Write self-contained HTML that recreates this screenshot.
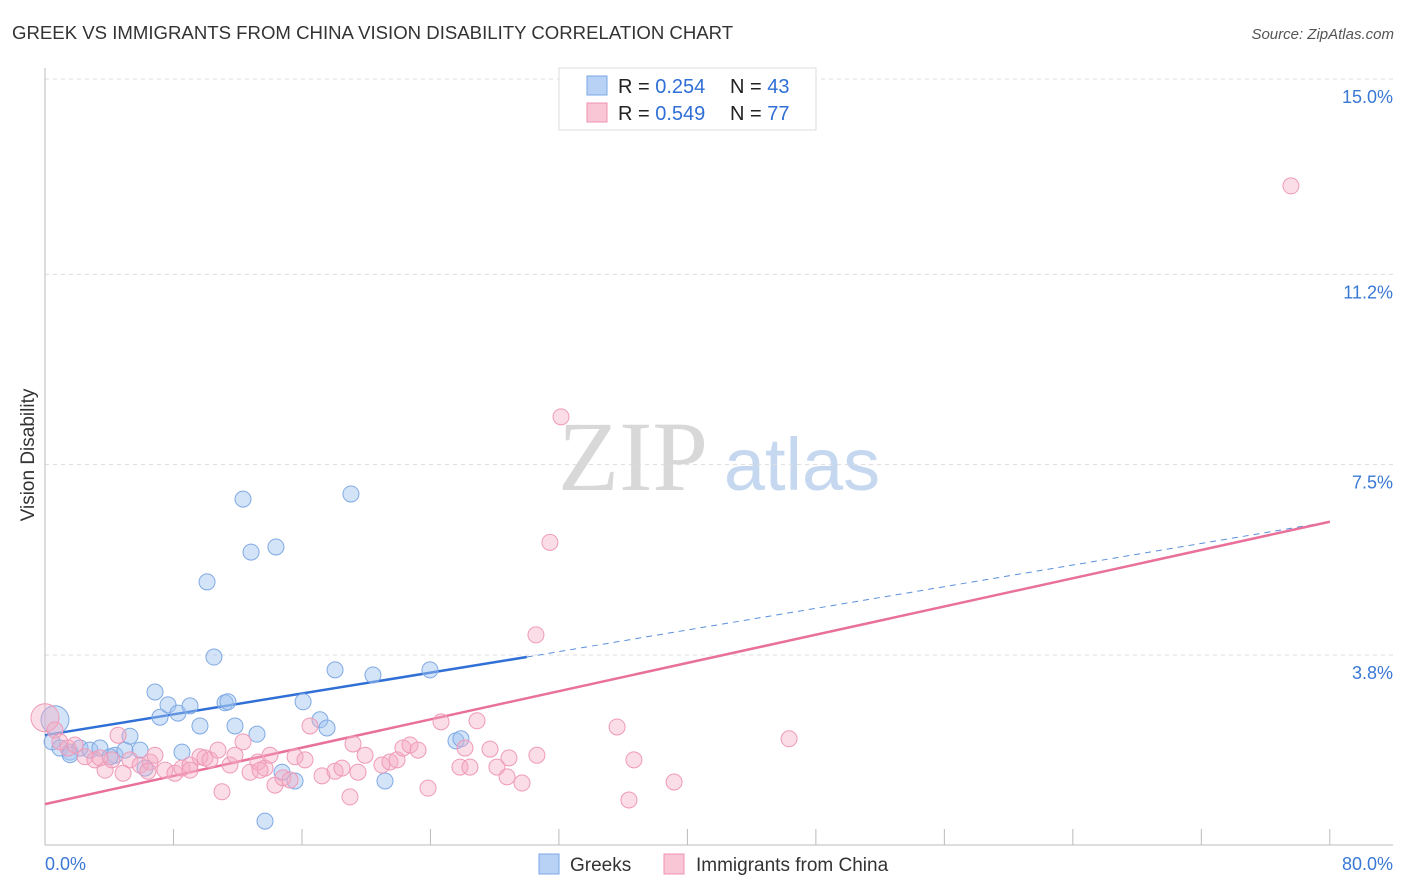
<!DOCTYPE html>
<html><head><meta charset="utf-8"><style>
body{margin:0;background:#fff;font-family:"Liberation Sans",sans-serif;}
#wrap{position:relative;width:1406px;height:892px;overflow:hidden;}
</style></head><body>
<div id="wrap">
<svg id="chart" width="1406" height="892" xmlns="http://www.w3.org/2000/svg">
<text x="12" y="39" font-size="18.6" fill="#333">GREEK VS IMMIGRANTS FROM CHINA VISION DISABILITY CORRELATION CHART</text>
<text x="1394" y="39" font-size="15" fill="#555" text-anchor="end" font-style="italic">Source: ZipAtlas.com</text>
<text x="34" y="455" font-size="19" fill="#333" transform="rotate(-90 34 455)" text-anchor="middle">Vision Disability</text>
<g>
<text x="633" y="490" font-size="100" fill="#d8d8d8" font-family="Liberation Serif,serif" text-anchor="middle">ZIP</text>
<text x="802" y="490" font-size="74" fill="#c5d8f0" text-anchor="middle">atlas</text>
</g>
<g id="grid"></g><g id="axes"></g><g id="lines"></g><g id="pts"></g>
<g>
<rect x="559" y="68" width="257" height="62" fill="#fff" stroke="#ddd"/>
<rect x="587" y="76" width="20" height="19" fill="#b7d2f5" stroke="#7aa8e6"/>
<rect x="587" y="103" width="20" height="19" fill="#f9c6d6" stroke="#ee90b0"/>
<text x="618" y="93" font-size="20" fill="#222">R = <tspan fill="#2f6fd6">0.254</tspan></text>
<text x="730" y="93" font-size="20" fill="#222">N = <tspan fill="#2f6fd6">43</tspan></text>
<text x="618" y="120" font-size="20" fill="#222">R = <tspan fill="#2f6fd6">0.549</tspan></text>
<text x="730" y="120" font-size="20" fill="#222">N = <tspan fill="#2f6fd6">77</tspan></text>
</g>
<g>
<rect x="539" y="854" width="20" height="20" fill="#b7d2f5" stroke="#7aa8e6"/>
<text x="570" y="871" font-size="19" fill="#333">Greeks</text>
<rect x="664" y="854" width="20" height="20" fill="#f9c6d6" stroke="#ee90b0"/>
<text x="696" y="871" font-size="19" fill="#333">Immigrants from China</text>
</g>
</svg>
</div>
<script>
const yTicks=[3.8,7.5,11.2,15.0];
const yTickLabels=["3.8%","7.5%","11.2%","15.0%"];
const xTickLabels=["0.0%","80.0%"];
const greeksX=[0.62,0.44,0.93,1.56,2.18,2.80,3.42,4.36,4.98,5.29,5.92,6.23,6.85,7.16,7.66,8.28,8.53,9.03,9.65,10.09,10.52,11.21,11.39,11.83,12.33,12.83,13.20,14.38,14.76,15.57,16.07,17.12,17.56,18.06,19.05,20.42,21.17,23.97,25.59,25.90,13.70,1.56,4.05];
const greeksY=[2.54,2.11,1.99,1.91,1.99,1.95,1.99,1.85,1.95,2.22,1.95,1.60,3.08,2.59,2.83,2.67,1.91,2.81,2.42,5.22,3.76,2.87,2.89,2.42,6.83,5.80,2.26,5.90,1.52,1.35,2.89,2.54,2.38,3.51,6.93,3.41,1.35,3.51,2.13,2.17,0.57,1.86,1.82];
const chinaX=[0,0.62,0.93,1.43,1.87,2.49,3.11,3.74,4.17,4.55,4.86,5.29,5.92,6.54,6.85,7.47,8.09,8.53,9.03,9.65,9.96,10.27,10.77,11.02,11.52,11.83,12.33,12.77,13.26,13.70,14.01,14.32,14.82,15.26,15.57,16.19,16.50,17.25,18.06,18.49,18.99,19.18,19.49,19.93,20.98,21.48,21.92,22.29,22.73,23.23,23.85,24.66,25.84,26.15,26.46,26.90,27.71,28.14,28.77,28.89,29.70,30.63,30.57,31.44,32.13,35.62,36.36,36.67,39.17,46.33,77.58,3.42,6.41,9.03,13.39];
const chinaY=[2.58,2.34,2.11,1.99,2.05,1.82,1.76,1.56,1.76,2.24,1.50,1.76,1.66,1.72,1.85,1.56,1.50,1.60,1.66,1.82,1.80,1.76,1.95,1.14,1.66,1.85,2.11,1.52,1.72,1.60,1.85,1.27,1.41,1.37,1.82,1.76,2.42,1.45,1.54,1.60,1.04,2.07,1.52,1.85,1.66,1.72,1.76,1.99,2.05,1.95,1.21,2.50,1.62,1.99,1.62,2.52,1.97,1.62,1.43,1.80,1.31,1.85,4.19,5.99,8.43,2.40,0.98,1.76,1.33,2.17,12.92,1.80,1.54,1.56,1.56];
const greeksTrend=[2.24,3.76,6.39];
const chinaTrend=[0.90,6.39];
const NS="http://www.w3.org/2000/svg";
const X=v=>45+v*16.06, Y=v=>850.4-v*51.43;
function mk(tag,attrs,parent){const e=document.createElementNS(NS,tag);for(const k in attrs)e.setAttribute(k,attrs[k]);document.getElementById(parent).appendChild(e);return e;}
yTicks.forEach((t,i)=>{
 const g=mk('line',{x1:45,x2:1393,y1:Y(t),y2:Y(t),stroke:'#ddd','stroke-dasharray':'4 4'},'grid');
 
 
 const tx=mk('text',{x:1393,y:Y(t)+24,'font-size':18,fill:'#3a78d6','text-anchor':'end'},'axes');
 tx.textContent=yTickLabels[i];
 
 
});
const ax=mk('line',{x1:45,x2:1393,y1:845,y2:845,stroke:'#bbb'},'axes');


const ay=mk('line',{x1:45,x2:45,y1:68,y2:845,stroke:'#bbb'},'axes');


for(let i=1;i<=10;i++){const t=mk('line',{x1:X(i*8),x2:X(i*8),y1:829,y2:845,stroke:'#bbb'},'axes');
 
 }
const xl0=mk('text',{x:45,y:870,'font-size':18,fill:'#3a78d6'},'axes');xl0.textContent=xTickLabels[0];


const xl1=mk('text',{x:1393,y:870,'font-size':18,fill:'#3a78d6','text-anchor':'end'},'axes');xl1.textContent=xTickLabels[1];


greeksX.forEach((x,i)=>{const c=mk('circle',{cx:X(x),cy:Y(greeksY[i]),r:i===0?14:8,fill:'rgba(160,195,240,0.45)',stroke:'#7fa9e4','stroke-width':1},'pts');
 
 });
chinaX.forEach((x,i)=>{const c=mk('circle',{cx:X(x),cy:Y(chinaY[i]),r:i===0?14:8,fill:'rgba(245,170,195,0.4)',stroke:'#ef9ab8','stroke-width':1},'pts');
 
 });
const l1=mk('line',{x1:X(0),y1:Y(greeksTrend[0]),x2:X(30),y2:Y(greeksTrend[1]),stroke:'#2f6fd6','stroke-width':2.5},'lines');


const l2=mk('line',{x1:X(30),y1:Y(greeksTrend[1]),x2:X(80),y2:Y(greeksTrend[2]),stroke:'#5b8fdc','stroke-width':1,'stroke-dasharray':'6 5'},'lines');


const l3=mk('line',{x1:X(0),y1:Y(chinaTrend[0]),x2:X(80),y2:Y(chinaTrend[1]),stroke:'#e8709a','stroke-width':2.5},'lines');


</script>
</body></html>
